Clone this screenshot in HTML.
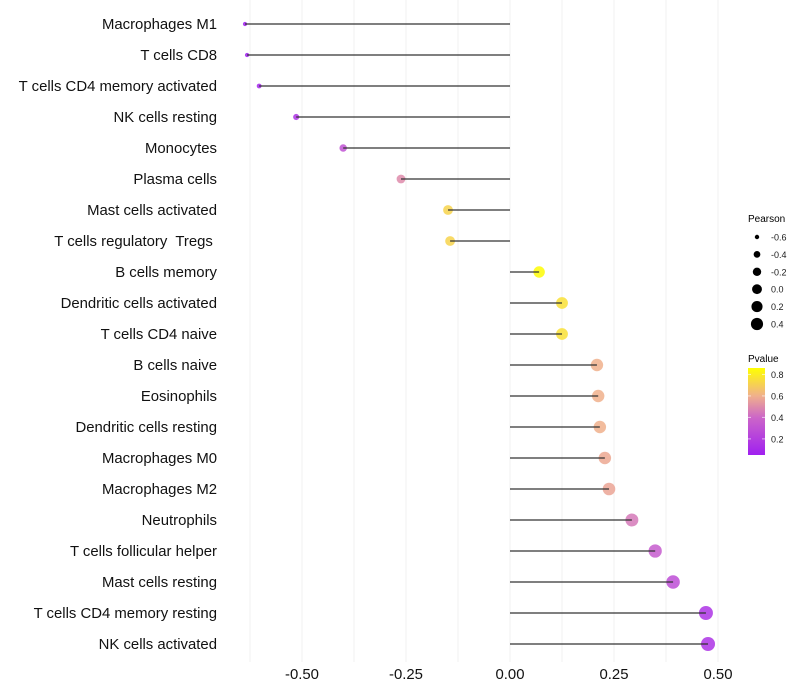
<!DOCTYPE html>
<html><head><meta charset="utf-8"><style>
html,body{margin:0;padding:0;background:#fff;}
svg{display:block;font-family:"Liberation Sans",sans-serif;}
#ylabels text{white-space:pre;}
</style></head><body>
<svg id="chart" width="800" height="700">
<g id="grid"></g><g id="marks"></g><g id="ylabels"></g><g id="xlabels"></g><g id="legend"></g>
</svg>
<script>
const categories=["Macrophages M1","T cells CD8","T cells CD4 memory activated","NK cells resting","Monocytes","Plasma cells","Mast cells activated","T cells regulatory  Tregs ","B cells memory","Dendritic cells activated","T cells CD4 naive","B cells naive","Eosinophils","Dendritic cells resting","Macrophages M0","Macrophages M2","Neutrophils","T cells follicular helper","Mast cells resting","T cells CD4 memory resting","NK cells activated"];
const pearson=[-0.637,-0.632,-0.603,-0.514,-0.401,-0.262,-0.149,-0.144,0.070,0.125,0.125,0.209,0.212,0.216,0.228,0.238,0.293,0.349,0.392,0.471,0.476];
const pvalue=[0.05,0.05,0.08,0.15,0.30,0.50,0.72,0.72,0.85,0.76,0.76,0.60,0.60,0.60,0.58,0.57,0.45,0.35,0.28,0.15,0.15];
const xTicks=[-0.5,-0.25,0,0.25,0.5];
const xTickLabels=["-0.50","-0.25","0.00","0.25","0.50"];
const sizeLegend=[-0.6,-0.4,-0.2,0.0,0.2,0.4];
const sizeLegendLabels=["-0.6","-0.4","-0.2","0.0","0.2","0.4"];
const pLegend=[0.8,0.6,0.4,0.2];

const NS="http://www.w3.org/2000/svg";
const x=v=>510+v*416;
const y=i=>24+i*31;
const rad=v=>Math.sqrt(Math.max(2,30+40*v));
const stops=[[0,[160,32,240]],[0.43,[204,102,200]],[0.68,[240,176,140]],[1,[255,255,0]]];
function col(p){let t=(p-0.05)/0.81;t=Math.max(0,Math.min(1,t));
 for(let k=1;k<stops.length;k++){if(t<=stops[k][0]){const a=stops[k-1],b=stops[k];const f=(t-a[0])/(b[0]-a[0]);
 return "rgb("+a[1].map((c,j)=>Math.round(c+(b[1][j]-c)*f)).join(",")+")";}}return "rgb(255,255,0)";}
function mk(tag,attrs,parent){const e=document.createElementNS(NS,tag);for(const k in attrs)e.setAttribute(k,attrs[k]);document.getElementById(parent).appendChild(e);return e;}

for(let g=-0.625;g<=0.5001;g+=0.125){
 const l=mk("line",{x1:x(g),x2:x(g),y1:0,y2:662,stroke:"#f0f0f0","stroke-width":1},"grid");
 
 
}
categories.forEach((c,i)=>{
 const cy=y(i);
 const dot=mk("circle",{cx:x(pearson[i]),cy:cy,r:rad(pearson[i]),fill:col(pvalue[i]),"fill-opacity":0.85},"marks");
 
 
 const ln=mk("line",{x1:x(0),x2:x(pearson[i]),y1:cy,y2:cy,stroke:"#333","stroke-width":1.3},"marks");
 
 
 const t=mk("text",{x:217,y:cy+5,"text-anchor":"end","font-size":14.9,fill:"#111"},"ylabels");
 t.textContent=c;
 
 
});
xTicks.forEach((v,i)=>{
 const t=mk("text",{x:x(v),y:679,"text-anchor":"middle","font-size":14.9,fill:"#111"},"xlabels");
 t.textContent=xTickLabels[i];
 
 
});
const lt=mk("text",{x:748,y:222,"font-size":10,fill:"#000"},"legend");lt.textContent="Pearson";


sizeLegend.forEach((v,i)=>{
 const cy=237+i*17.4;
 const d=mk("circle",{cx:757,cy:cy,r:rad(v)*0.9,fill:"#000"},"legend");
 
 
 const t=mk("text",{x:771,y:cy+3.5,"font-size":9,fill:"#1a1a1a"},"legend");t.textContent=sizeLegendLabels[i];
 
 
});
const pt=mk("text",{x:748,y:362,"font-size":10,fill:"#000"},"legend");pt.textContent="Pvalue";


const defs=mk("defs",{},"legend");
const grad=document.createElementNS(NS,"linearGradient");grad.setAttribute("id","pg");grad.setAttribute("x1","0");grad.setAttribute("y1","1");grad.setAttribute("x2","0");grad.setAttribute("y2","0");
defs.appendChild(grad);
stops.forEach(s=>{const st=document.createElementNS(NS,"stop");st.setAttribute("offset",s[0]);st.setAttribute("stop-color","rgb("+s[1].join(",")+")");grad.appendChild(st);});
const bar=mk("rect",{x:748,y:368,width:17,height:87,fill:"url(#pg)"},"legend");


const py=p=>455-(p-0.05)/0.81*87;
pLegend.forEach(p=>{
 mk("line",{x1:748,x2:751,y1:py(p),y2:py(p),stroke:"#fff","stroke-opacity":0.6},"legend");
 mk("line",{x1:762,x2:765,y1:py(p),y2:py(p),stroke:"#fff","stroke-opacity":0.6},"legend");
 const t=mk("text",{x:771,y:py(p)+3.5,"font-size":9,fill:"#1a1a1a"},"legend");t.textContent=p.toFixed(1);
 
 
});
</script>
</body></html>
